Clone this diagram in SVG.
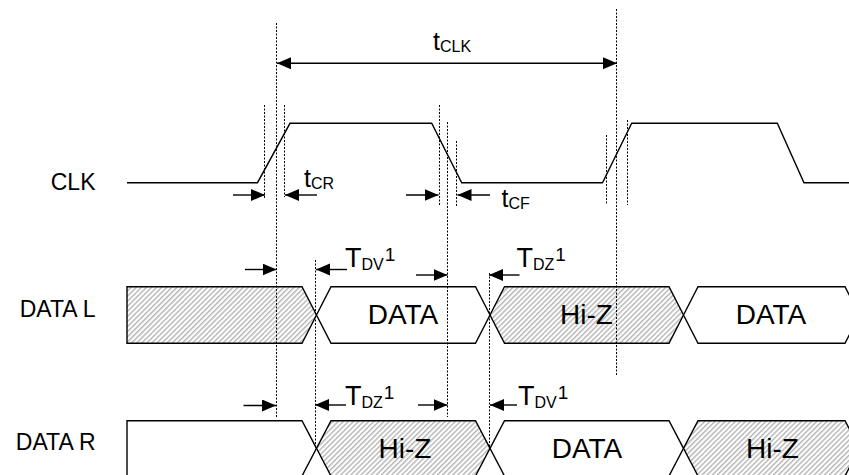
<svg xmlns="http://www.w3.org/2000/svg" width="849" height="475" viewBox="0 0 849 475">
<style>
  .sig { fill: none; stroke: #000; stroke-width: 1.4; stroke-linejoin: miter; }
  .box { fill: #fff; stroke: #000; stroke-width: 1.4; }
  .hz { fill: url(#hatch); stroke: #000; stroke-width: 1.4; }
  .dot { stroke: #000; stroke-width: 1; stroke-dasharray: 2 1.5; fill: none; }
  .arr { stroke: #000; stroke-width: 1.4; fill: none; marker-end: url(#ah); }
  .dbl { stroke: #000; stroke-width: 1.4; fill: none; marker-end: url(#ah); marker-start: url(#ah); }
  text { font-family: "Liberation Sans", Arial, sans-serif; fill: #000; }
  .lbl { font-size: 23px; text-anchor: end; }
  .big { font-size: 28px; text-anchor: middle; }
  .t { font-size: 25px; }
  .T { font-size: 27px; }
  .sub { font-size: 16px; }
  .sup { font-size: 19px; }
</style>
<defs>
  <pattern id="hatch" patternUnits="userSpaceOnUse" width="3.6" height="3.6" patternTransform="rotate(45)">
    <rect width="3.6" height="3.6" fill="#fff"/>
    <rect width="1.4" height="3.6" fill="#b4b4b4"/>
  </pattern>
  <marker id="ah" markerUnits="userSpaceOnUse" markerWidth="15" markerHeight="13" refX="14" refY="6" orient="auto-start-reverse">
    <path d="M0,0 L14,6 L0,12 Z" fill="#000"/>
  </marker>
</defs>
<rect width="849" height="475" fill="#fff"/>

<g id="clk">
  <polyline class="sig" points="127,182.7 257.5,182.7 290,123.3 431.7,123.3 461.7,182.7 602.5,182.7 631.7,123.3 777.3,123.3 804,182.7 849,182.7"/>
  <text class="lbl" x="95.5" y="190">CLK</text>
</g>

<g id="data-l">
  <path class="hz" d="M127,286.7 L302,286.7 L316.5,315 L302,343.3 L127,343.3 Z"/>
  <path class="box" d="M316.5,315 L331,286.7 L475.5,286.7 L490,315 L475.5,343.3 L331,343.3 Z"/>
  <path class="hz" d="M490,315 L504.5,286.7 L669,286.7 L683.5,315 L669,343.3 L504.5,343.3 Z"/>
  <path class="box" d="M683.5,315 L698,286.7 L845,286.7 L859.5,315 L845,343.3 L698,343.3 Z"/>
  <text class="lbl" x="95.5" y="317">DATA L</text>
  <text class="big" x="403" y="324">DATA</text>
  <text class="big" x="586.5" y="324">Hi-Z</text>
  <text class="big" x="771" y="324">DATA</text>
</g>

<g id="data-r">
  <path class="box" d="M127,420.7 L302,420.7 L316.5,448.3 L302,476 L127,476 Z"/>
  <path class="hz" d="M316.5,448.3 L331,420.7 L475.5,420.7 L490,448.3 L475.5,476 L331,476 Z"/>
  <path class="box" d="M490,448.3 L504.5,420.7 L669,420.7 L683.5,448.3 L669,476 L504.5,476 Z"/>
  <path class="hz" d="M683.5,448.3 L698,420.7 L845,420.7 L859.5,448.3 L845,476 L698,476 Z"/>
  <text class="lbl" x="95.5" y="450">DATA R</text>
  <text class="big" x="405" y="458">Hi-Z</text>
  <text class="big" x="587" y="458">DATA</text>
  <text class="big" x="772.5" y="458">Hi-Z</text>
</g>

<g id="connectors">
  <line class="dot" x1="264.5" y1="105" x2="264.5" y2="198"/>
  <line class="dot" x1="276.5" y1="23" x2="276.5" y2="417"/>
  <line class="dot" x1="284.5" y1="105" x2="284.5" y2="197"/>
  <line class="dot" x1="439.5" y1="105" x2="439.5" y2="206"/>
  <line class="dot" x1="447.5" y1="122" x2="447.5" y2="417"/>
  <line class="dot" x1="456.5" y1="141" x2="456.5" y2="206"/>
  <line class="dot" x1="606.5" y1="135" x2="606.5" y2="205"/>
  <line class="dot" x1="616.5" y1="9" x2="616.5" y2="375"/>
  <line class="dot" x1="627.5" y1="120" x2="627.5" y2="205"/>
  <line class="dot" x1="315.5" y1="260" x2="315.5" y2="450"/>
  <line class="dot" x1="489.5" y1="273" x2="489.5" y2="450"/>

  <line class="dbl" x1="277" y1="63.3" x2="617" y2="63.3"/>

  <line class="arr" x1="233" y1="195" x2="265" y2="195"/>
  <line class="arr" x1="317" y1="195" x2="285" y2="195"/>
  <line class="arr" x1="406" y1="195" x2="438.5" y2="195"/>
  <line class="arr" x1="490" y1="195" x2="457.5" y2="195"/>

  <line class="arr" x1="245" y1="269.5" x2="276.5" y2="269.5"/>
  <line class="arr" x1="347" y1="269.5" x2="316" y2="269.5"/>
  <line class="arr" x1="416" y1="275" x2="447.5" y2="275"/>
  <line class="arr" x1="519.5" y1="275" x2="489" y2="275"/>

  <line class="arr" x1="243.5" y1="405.5" x2="276" y2="405.5"/>
  <line class="arr" x1="346" y1="405" x2="315" y2="405"/>
  <line class="arr" x1="418" y1="405" x2="447.5" y2="405"/>
  <line class="arr" x1="517" y1="405" x2="490" y2="405"/>
</g>

<g id="timing-labels">
  <text x="433" y="50"><tspan class="t">t</tspan><tspan class="sub" dy="2">CLK</tspan></text>
  <text x="304" y="186.7"><tspan class="t">t</tspan><tspan class="sub" dy="2">CR</tspan></text>
  <text x="501.5" y="207.3"><tspan class="t">t</tspan><tspan class="sub" dy="2">CF</tspan></text>
  <text x="345" y="266.7"><tspan class="T">T</tspan><tspan class="sub" dy="3">DV</tspan><tspan class="sup" dx="1" dy="-9">1</tspan></text>
  <text x="516.5" y="266.7"><tspan class="T">T</tspan><tspan class="sub" dy="3">DZ</tspan><tspan class="sup" dx="1" dy="-9">1</tspan></text>
  <text x="345" y="404.5"><tspan class="T">T</tspan><tspan class="sub" dy="3">DZ</tspan><tspan class="sup" dx="1" dy="-9">1</tspan></text>
  <text x="518" y="405"><tspan class="T">T</tspan><tspan class="sub" dy="3">DV</tspan><tspan class="sup" dx="1" dy="-9">1</tspan></text>
</g>
</svg>
